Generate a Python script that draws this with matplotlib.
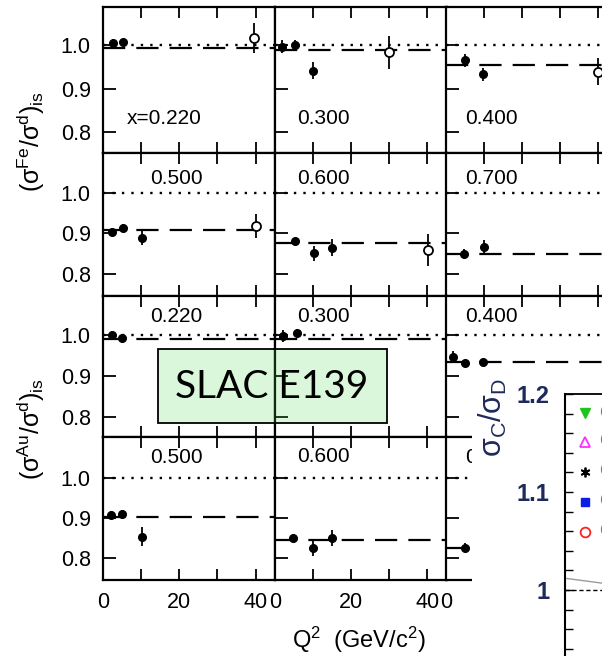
import numpy as np
import matplotlib.pyplot as plt
from matplotlib.patches import Rectangle
from matplotlib.ticker import FixedLocator, FuncFormatter

plt.rcParams['font.family'] = ['Liberation Sans', 'DejaVu Sans']
plt.rcParams['mathtext.fontset'] = 'custom'
plt.rcParams['mathtext.rm'] = 'Liberation Sans'
plt.rcParams['mathtext.it'] = 'Liberation Sans:italic'

W, H = 602, 656

# Bjorken-x bins, one panel each (three per row)
x_bins = ['0.220', '0.300', '0.400', '0.500', '0.600', '0.700']

# Fe/d isoscalar ratios, filled points
fe_q2 = [[2.5, 5.1], [1.75, 5.3, 9.9], [5.0, 9.8],
         [2.2, 5.1, 10.1], [5.2, 10.3, 15.1], [4.6, 9.9]]
fe_ratio = [[1.005, 1.006], [0.996, 0.999, 0.941], [0.965, 0.933],
            [0.904, 0.912, 0.889], [0.881, 0.851, 0.865], [0.850, 0.866]]
fe_err = [[0.008, 0.008], [0.015, 0.012, 0.020], [0.015, 0.015],
          [0.008, 0.010, 0.018], [0.005, 0.018, 0.020], [0.012, 0.018]]
# Fe/d open points (high Q2 measurement)
fe_open_q2 = [[39.7], [29.9], [40.0], [40.2], [40.3], []]
fe_open_ratio = [[1.016], [0.983], [0.939], [0.918], [0.859], []]
fe_open_err = [[0.035], [0.038], [0.030], [0.029], [0.040], []]
# Q2-independent fits
fe_fit = [0.993, 0.989, 0.954, 0.908, 0.875, 0.850]

# Au/d isoscalar ratios
au_q2 = [[2.2, 4.8], [2.2, 5.7], [1.9, 5.0, 9.8],
         [2.0, 4.8, 10.1], [4.8, 10.0, 14.9], [5.0]]
au_ratio = [[1.001, 0.993], [0.997, 1.005], [0.947, 0.931, 0.935],
            [0.908, 0.912, 0.854], [0.850, 0.827, 0.850], [0.827]]
au_err = [[0.008, 0.008], [0.015, 0.010], [0.015, 0.006, 0.010],
          [0.010, 0.010, 0.024], [0.005, 0.020, 0.020], [0.012]]
au_fit = [0.991, 0.990, 0.933, 0.904, 0.846, 0.827]

# carbon / deuterium inset: curve and legend symbols
c_curve_x = [0.0, 1.0]
c_curve_y = [1.012, 1.007]
c_ticks = [0.94, 0.96, 0.98, 1.00, 1.02, 1.04, 1.06, 1.08, 1.10,
           1.12, 1.14, 1.16, 1.18, 1.20]
c_tick_labels = {1.0: '1', 1.1: '1.1', 1.2: '1.2'}
leg_labels = ['CLAS', 'CLAS', 'CLAS', 'CLAS', 'CLAS']

# panel grid in pixels
col_left = [103.3, 275, 446]
col_w = 172
row_top = [7, 153, 296, 437]
row_bot = [153, 296, 437, 580]
row_ylim = [(0.7517, 1.0874), (0.7456, 1.0978), (0.7512, 1.0951), (0.7458, 1.1033)]
# panel tag positions (Q2, ratio)
tag_pos = [[(6.2, 0.832), (5.7, 0.832), (5.0, 0.832)],
           [(12.3, 1.036), (5.7, 1.036), (5.0, 1.036)],
           [(12.3, 1.045), (5.7, 1.045), (5.0, 1.045)],
           [(12.3, 1.053), (5.7, 1.055), (5.0, 1.053)]]

fig = plt.figure(figsize=(W / 100, H / 100), dpi=100)


def px_axes(x0, y0, x1, y1):
    return fig.add_axes([x0 / W, 1 - y1 / H, (x1 - x0) / W, (y1 - y0) / H])


def q2_fmt(v, pos):
    return '%d' % v if v in (0, 20, 40) else ''


def draw_panel(ax, q2, r, e, oq2, orat, oerr, fit, row, col, tag):
    ax.axhline(1.0, color='black', lw=1.7, ls=(0, (1, 3)), zorder=1)
    ax.axhline(fit, color='black', lw=1.6, ls=(0, (10, 5)), zorder=1)
    ax.errorbar(q2, r, yerr=e, fmt='o', color='black', ms=5.5,
                elinewidth=1.3, capsize=0, zorder=3)
    if oq2:
        ax.errorbar(oq2, orat, yerr=oerr, fmt='o', mfc='white', mec='black',
                    mew=1.3, ms=6.5, ecolor='black', elinewidth=1.3,
                    capsize=0, zorder=3)
    ax.set_xlim(0, 45.2)
    ax.set_ylim(*row_ylim[row])
    ax.xaxis.set_major_locator(FixedLocator([0, 10, 20, 30, 40]))
    ax.xaxis.set_major_formatter(FuncFormatter(q2_fmt))
    ax.yaxis.set_major_locator(FixedLocator([0.8, 0.9, 1.0]))
    ax.yaxis.set_major_formatter(FuncFormatter(lambda v, p: '%.1f' % v))
    ax.tick_params(axis='x', direction='in', top=True, length=8, width=1.3,
                   labelsize=15.5, pad=9, labelbottom=(row == 3))
    ax.tick_params(axis='y', direction='in', length=9, width=1.3,
                   labelsize=15.5, pad=9, labelleft=(col == 0))
    for s in ax.spines.values():
        s.set_linewidth(1.6)
    tx, ty = tag_pos[row][col]
    ax.text(tx, ty, tag, fontsize=15, ha='left', va='center')


for i in range(6):
    row, col = i // 3, i % 3
    ax = px_axes(col_left[col], row_top[row], col_left[col] + col_w, row_bot[row])
    tag = 'x=' + x_bins[i] if i == 0 else x_bins[i]
    draw_panel(ax, fe_q2[i], fe_ratio[i], fe_err[i], fe_open_q2[i],
               fe_open_ratio[i], fe_open_err[i], fe_fit[i], row, col, tag)

for i in range(6):
    row, col = 2 + i // 3, i % 3
    ax = px_axes(col_left[col], row_top[row], col_left[col] + col_w, row_bot[row])
    draw_panel(ax, au_q2[i], au_ratio[i], au_err[i], [], [], [], au_fit[i],
               row, col, x_bins[i])

fig.text(31 / W, 1 - 142 / H, r'$\mathrm{(\sigma^{Fe}/\sigma^{d})_{is}}$',
         rotation=90, ha='center', va='center', fontsize=18)
fig.text(31 / W, 1 - 429 / H, r'$\mathrm{(\sigma^{Au}/\sigma^{d})_{is}}$',
         rotation=90, ha='center', va='center', fontsize=18)
fig.text(359 / W, 1 - 640 / H, r'$\mathrm{Q^2\ \ (GeV/c^2)}$',
         ha='center', va='center', fontsize=17)

# white backing for the carbon inset
fig.patches.append(Rectangle((472 / W, 0), 130 / W, 288 / H,
                             transform=fig.transFigure, facecolor='white',
                             edgecolor='none', zorder=5))

navy = '#1f2a5c'
axc = px_axes(565, 394, 602, 656)
axc.set_zorder(6)
axc.patch.set_alpha(0)
axc.set_xlim(0, 1)
axc.set_ylim(1.2 - 262 / 980, 1.2)
axc.spines['right'].set_visible(False)
axc.spines['bottom'].set_visible(False)
axc.spines['left'].set_linewidth(1.5)
axc.spines['top'].set_linewidth(1.3)
axc.set_xticks([])
axc.yaxis.set_major_locator(FixedLocator(c_ticks))
axc.yaxis.set_major_formatter(FuncFormatter(
    lambda v, p: c_tick_labels.get(round(v, 2), '')))
axc.tick_params(axis='y', direction='in', length=6, width=1, pad=11,
                labelsize=17, labelcolor=navy)
for t in axc.get_yticklabels():
    t.set_fontweight('bold')
axc.plot(c_curve_x, c_curve_y, color='#9a9a9a', lw=1)
axc.axhline(1.0, color='black', lw=1, ls=(0, (3, 2)))

leg_y = [1.1806, 1.1513, 1.1207, 1.0901, 1.0595]
leg_style = [dict(marker='v', color='#1fc41f', ms=7),
             dict(marker='^', mfc='none', mec='#ff30ff', mew=1.3, ms=7),
             dict(marker=(6, 2, 0), color='black', mew=1.3, ms=7),
             dict(marker='s', color='#0a1ee6', ms=6),
             dict(marker='o', mfc='none', mec='#ff2020', mew=1.3, ms=7)]
for yv, st, lab in zip(leg_y, leg_style, leg_labels):
    axc.plot([0.54], [yv], ls='none', clip_on=False, **st)
    axc.text(0.92, yv, lab, color='#b5692a', fontsize=13, va='center',
             ha='left', clip_on=False)

fig.text(493 / W, 1 - 417 / H, r'$\mathrm{\sigma_C/\sigma_D}$', rotation=90,
         ha='center', va='center', fontsize=22, color=navy, zorder=7)

# experiment tag
fig.patches.append(Rectangle((158 / W, 1 - 423 / H), 229 / W, 74 / H,
                             transform=fig.transFigure,
                             facecolor=(0.3, 0.85, 0.3, 0.2),
                             edgecolor='black', lw=1.3, zorder=7))
fig.text(272 / W, 1 - 387 / H, 'SLAC E139', family=['Lato', 'DejaVu Sans'],
         fontsize=28, ha='center', va='center', zorder=8)

fig.savefig('out.png', dpi=100)
